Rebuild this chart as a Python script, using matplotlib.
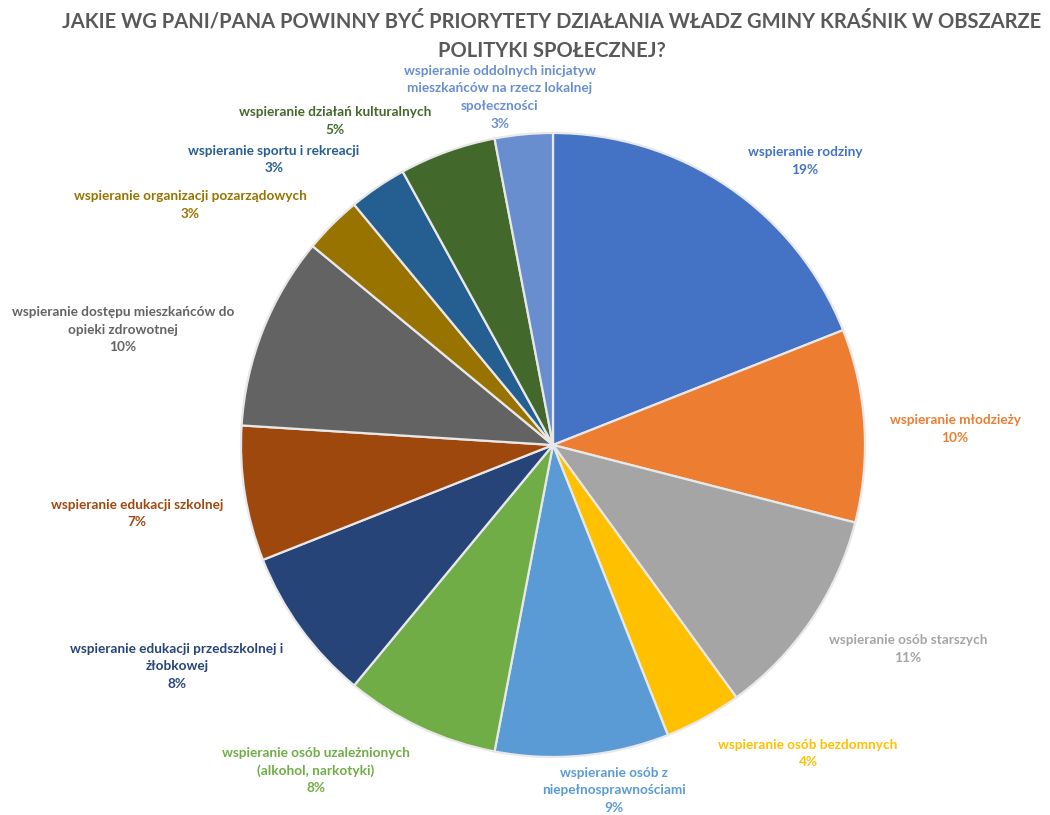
import matplotlib
matplotlib.use("Agg")
import matplotlib.pyplot as plt

plt.rcParams['font.family'] = ['Lato', 'DejaVu Sans']

title_lines = ["JAKIE WG PANI/PANA POWINNY BYĆ PRIORYTETY DZIAŁANIA WŁADZ GMINY KRAŚNIK W OBSZARZE",
               "POLITYKI SPOŁECZNEJ?"]

categories = [
    "wspieranie rodziny",
    "wspieranie młodzieży",
    "wspieranie osób starszych",
    "wspieranie osób bezdomnych",
    "wspieranie osób z\nniepełnosprawnościami",
    "wspieranie osób uzależnionych\n(alkohol, narkotyki)",
    "wspieranie edukacji przedszkolnej i\nżłobkowej",
    "wspieranie edukacji szkolnej",
    "wspieranie dostępu mieszkańców do\nopieki zdrowotnej",
    "wspieranie organizacji pozarządowych",
    "wspieranie sportu i rekreacji",
    "wspieranie działań kulturalnych",
    "wspieranie oddolnych inicjatyw\nmieszkańców na rzecz lokalnej\nspołeczności",
]
shares = [19, 10, 11, 4, 9, 8, 8, 7, 10, 3, 3, 5, 3]

colors = ["#4472C4", "#ED7D31", "#A5A5A5", "#FFC000", "#5B9BD5", "#70AD47",
          "#264478", "#9E480E", "#636363", "#997300", "#255E91", "#43682B",
          "#698ED0"]

# label centres in pixels (x, y of first line, from top-left)
label_pos = [(805, 152), (955, 420), (908, 640), (808, 745), (614, 773),
             (316, 753), (177, 649), (137, 505), (123, 312), (190, 196),
             (274, 151), (335, 112), (500, 71)]

W, H = 1050, 815
fig = plt.figure(figsize=(W / 100, H / 100), dpi=100)

cx, cy, r = 553, 445, 312
ax = fig.add_axes([(cx - r) / W, (H - cy - r) / H, 2 * r / W, 2 * r / H])
ax.pie(shares, colors=colors, startangle=90, counterclock=False, radius=1,
       wedgeprops=dict(edgecolor="#e8e8e8", linewidth=1.6))
ax.set_xlim(-1.0, 1.0)
ax.set_ylim(-1.0, 1.0)
ax.set_aspect('equal')
ax.axis('off')

for i, tl in enumerate(title_lines):
    fig.text(552 / W, 1 - (21 + i * 30) / H, tl, ha='center', va='center',
             fontsize=14.5, fontweight='bold', color='#595959')

line_h = 17.5
for name, val, col, (x, y) in zip(categories, shares, colors, label_pos):
    lines = name.split("\n") + [f"{val}%"]
    for i, ln in enumerate(lines):
        fig.text(x / W, 1 - (y + i * line_h) / H, ln, ha='center', va='center',
                 fontsize=9.8, fontweight='bold', color=col)

fig.savefig("out.png", dpi=100, facecolor='white')
